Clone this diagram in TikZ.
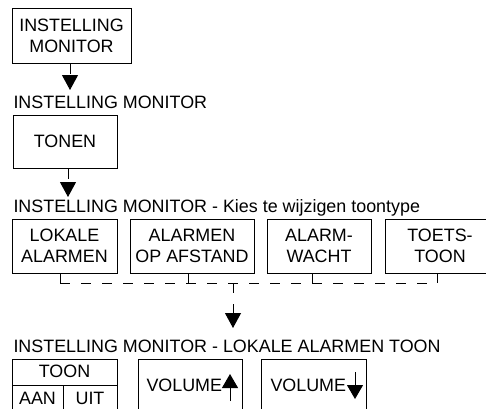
\documentclass[tikz,border=0pt]{standalone}
\usepackage{fontspec}
\setmainfont{Liberation Sans}
\usetikzlibrary{arrows.meta}
\begin{document}
\begin{tikzpicture}[x=1pt, y=-1pt, line width=1pt,
  every node/.style={font=\fontsize{17.9}{20.7}\selectfont, inner sep=0pt},
  kader/.style={draw, align=center},
  kop/.style={anchor=base west},
  stroom/.style={dash pattern=on 10pt off 11pt, -{Triangle[width=16pt,length=15pt]}},
  pijl/.style={-{Triangle[width=16pt,length=14pt]}}]
  \useasboundingbox (0,0) rectangle (486,408);
  % stap 1 en 2
  \node[kader, minimum width=119pt, minimum height=55pt] (monitor) at (71.5,35.5) {INSTELLING\\MONITOR};
  \node[kop] (kop1) at (13,108) {INSTELLING MONITOR};
  \node[kader, minimum width=104pt, minimum height=53pt] (tonen) at (65,141.5) {TONEN};
  \coordinate (p1) at (70,90);
  \coordinate (p2) at (68,197);
  \draw[stroom] (monitor.south -| p1) -- (p1);
  \draw[stroom] (tonen.south -| p2) -- (p2);
  % keuze toontype
  \node[kop] (kop2) at (13,212) {INSTELLING MONITOR - Kies te wijzigen toontype};
  \foreach \naam/\x/\b/\tekst in {lokaal/64.5/105/LOKALE\\ALARMEN, afstand/192/124/ALARMEN\\OP AFSTAND,
      wacht/319/104/ALARM-\\WACHT, toets/440/110/TOETS-\\TOON}
    \node[kader, minimum width=\b pt, minimum height=54pt] (\naam) at (\x,246) {\tekst};
  \coordinate (b1) at (60,283);
  \coordinate (b2) at (188,283);
  \coordinate (b3) at (312,283);
  \coordinate (b4) at (437,283);
  \coordinate (bm) at (233,283);
  \coordinate (p3) at (233,328);
  \foreach \i/\naam in {1/lokaal, 2/afstand, 3/wacht, 4/toets}
    \draw (\naam.south -| b\i) -- (b\i);
  \draw[dash pattern=on 10pt off 11pt] (b1) -- (b4);
  \draw[stroom] (bm) -- (p3);
  % lokale alarmen toon
  \node[kop] (kop3) at (13,352) {INSTELLING MONITOR - LOKALE ALARMEN TOON};
  \node[kader, minimum width=105pt, minimum height=60pt, anchor=north west] (toon) at (12,359) {};
  \node[anchor=base] (toont) at (64.5,377) {TOON};
  \coordinate (d1) at (12,385);
  \coordinate (d2) at (63,385);
  \draw (d1) -- (d1 -| toon.east);
  \draw (d2) -- (d2 |- toon.south);
  \node[anchor=base] (aan) at (37.5,404) {AAN};
  \node[anchor=base] (uit) at (90,404) {UIT};
  \node[kader, minimum width=104pt, minimum height=60pt, anchor=north west] (volop) at (138,359) {};
  \node[kop] (volopt) at (146,391) {VOLUME};
  \coordinate (o1) at (230,401);
  \coordinate (o2) at (230,374);
  \draw[pijl] (o1) -- (o2);
  \node[kader, minimum width=105pt, minimum height=60pt, anchor=north west] (volneer) at (261,359) {};
  \node[kop] (volneert) at (270,391) {VOLUME};
  \coordinate (n1) at (355,372);
  \coordinate (n2) at (355,399);
  \draw[pijl] (n1) -- (n2);
\end{tikzpicture}
\end{document}
